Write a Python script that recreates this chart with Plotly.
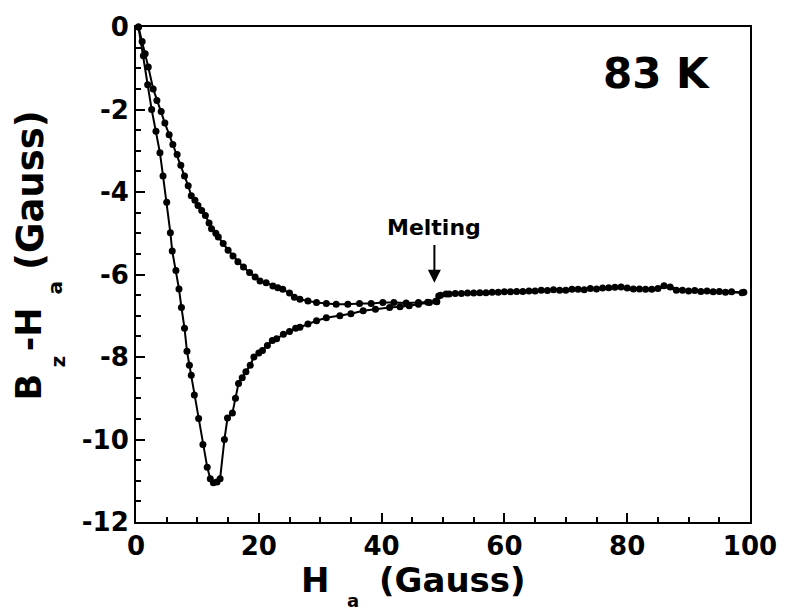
import plotly.graph_objects as go

# ---------------- data ----------------
# increasing-field branch (lower curve with the dip)
H_inc = [0.4, 1.2, 1.9, 2.55, 3.25, 3.9, 4.4, 5.0, 5.6, 5.9, 6.5, 7.0, 7.4, 7.9, 8.3,
         8.7, 9.0, 9.5, 10.2, 10.9, 11.6, 12.1, 12.6, 13.2, 13.7, 14.4, 14.9, 15.7,
         16.2, 16.7, 17.3, 17.9, 18.6, 19.2, 20.0, 20.6, 21.4, 22.2, 22.9, 24.0, 25.0,
         26.0, 26.7, 28.0, 29.4, 31.0, 33.2, 35.0, 37.0, 39.0, 41.3, 43.0, 44.5, 46.0,
         47.8, 48.8, 49.3, 50.5, 52, 54, 56, 58, 60, 62, 64, 66, 68, 70, 72, 74, 76,
         78, 80, 82, 84, 86, 88, 90, 92, 94, 96, 98.7]
B_inc = [0.0, -0.7, -1.4, -2.0, -2.53, -3.05, -3.61, -4.25, -4.99, -5.43, -5.9, -6.35,
         -6.8, -7.3, -7.86, -8.2, -8.44, -8.92, -9.49, -10.12, -10.67, -10.95, -11.05,
         -11.03, -10.95, -10.0, -9.48, -9.36, -9.0, -8.64, -8.5, -8.36, -8.2, -8.0,
         -7.9, -7.84, -7.72, -7.6, -7.56, -7.45, -7.38, -7.3, -7.28, -7.2, -7.12,
         -7.05, -7.0, -6.95, -6.88, -6.84, -6.8, -6.78, -6.76, -6.72, -6.68, -6.65,
         -6.52, -6.47, -6.46, -6.45, -6.44, -6.43, -6.42, -6.41, -6.40, -6.38, -6.37,
         -6.38, -6.36, -6.34, -6.33, -6.31, -6.33, -6.35, -6.36, -6.27, -6.38, -6.40,
         -6.41, -6.42, -6.43, -6.44]

# decreasing-field branch (upper curve)
H_dec = [0.4, 1.0, 1.5, 2.0, 2.8, 3.4, 4.1, 4.7, 5.4, 6.0, 6.7, 7.3, 7.9, 8.5, 9.0,
         9.6, 10.1, 10.7, 11.3, 11.9, 12.3, 13.0, 13.4, 14.2, 15.0, 15.8, 16.6, 17.5,
         18.5, 19.4, 20.2, 21.2, 22.3, 23.1, 23.9, 25.0, 25.8, 26.7, 28.0, 29.4, 31.0,
         32.6, 34.5, 36.4, 38.3, 40.2, 42, 44, 46, 47.5, 49.0, 49.6, 51, 53, 55, 57,
         59, 61, 63, 65, 67, 69, 71, 73, 75, 77, 79, 81, 83, 85, 87, 89, 91, 93, 95,
         97, 99]
B_dec = [0.0, -0.35, -0.65, -0.97, -1.5, -1.78, -2.05, -2.33, -2.61, -2.85, -3.09,
         -3.35, -3.61, -3.85, -4.09, -4.2, -4.33, -4.45, -4.57, -4.75, -4.89, -5.0,
         -5.09, -5.25, -5.41, -5.55, -5.69, -5.82, -5.95, -6.06, -6.16, -6.2, -6.28,
         -6.32, -6.36, -6.45, -6.55, -6.6, -6.64, -6.68, -6.7, -6.72, -6.72, -6.7,
         -6.7, -6.68, -6.68, -6.69, -6.68, -6.67, -6.66, -6.5, -6.47, -6.46, -6.45,
         -6.44, -6.43, -6.42, -6.41, -6.40, -6.39, -6.38, -6.36, -6.37, -6.35, -6.32,
         -6.30, -6.35, -6.36, -6.34, -6.30, -6.38, -6.39, -6.40, -6.41, -6.42, -6.43]

x_ticks = [0, 20, 40, 60, 80, 100]
x_ticktext = ["0", "20", "40", "60", "80", "100"]
y_ticks = [0, -2, -4, -6, -8, -10, -12]
y_ticktext = ["0", "-2", "-4", "-6", "-8", "-10", "-12"]

label_temp = "83 K"
label_melt = "Melting"
melt_H = 48.6

# ---------------- layout helpers ----------------
W, Hh = 789, 615
PL, PR, PT, PB = 136, 755, 21, 522   # plot area in pixels


def px(xp):
    return (xp - PL) / (PR - PL)


def py(yp):
    return (PB - yp) / (PB - PT)


FONT = "DejaVu Sans"
BLACK = "#000000"

fig = go.Figure()
for hx, by in ((H_inc, B_inc), (H_dec, B_dec)):
    fig.add_trace(go.Scatter(
        x=hx, y=by, mode="lines+markers",
        line=dict(color=BLACK, width=2),
        marker=dict(color=BLACK, size=7),
        cliponaxis=False, showlegend=False,
    ))

axis_common = dict(
    showline=True, linecolor=BLACK, linewidth=2, mirror=True,
    ticks="inside", tickcolor=BLACK, tickwidth=2, ticklen=9,
    showgrid=False, zeroline=False,
    tickfont=dict(family=FONT, size=26, color=BLACK, weight="bold"),
)

fig.update_xaxes(range=[0, 100], tickvals=x_ticks, ticktext=x_ticktext,
                 minor=dict(dtick=5, ticks="inside", ticklen=5, tickwidth=1.5,
                            tickcolor=BLACK, showgrid=False),
                 **axis_common)
fig.update_yaxes(range=[-12, 0], tickvals=y_ticks, ticktext=y_ticktext,
                 minor=dict(dtick=0.5, ticks="inside", ticklen=5, tickwidth=1.5,
                            tickcolor=BLACK, showgrid=False),
                 **axis_common)

ann = []


def txt(t, xp, yp, size, angle=0):
    ann.append(dict(text=t, x=px(xp), y=py(yp), xref="paper", yref="paper",
                    showarrow=False, textangle=angle, xanchor="center",
                    yanchor="middle",
                    font=dict(family=FONT, size=size, color=BLACK, weight="bold")))


txt(label_temp, 661, 68, 42)
# x-axis title pieces
txt("H", 316, 581, 34)
txt("a", 355, 601, 18)
txt("(Gauss)", 455, 581, 34)
# y-axis title pieces
txt("B", 28, 385, 35, -90)
txt("z", 57, 360, 20, -90)
txt("-H", 28, 327, 35, -90)
txt("a", 54, 285, 20, -90)
txt("(Gauss)", 29, 186, 37, -90)

# Melting label and arrow
ann.append(dict(text=label_melt, x=melt_H, y=-4.86, xref="x", yref="y",
                showarrow=False, xanchor="center", yanchor="middle",
                font=dict(family=FONT, size=22, color=BLACK, weight="bold")))
ann.append(dict(text="", x=melt_H, y=-6.2, ax=melt_H, ay=-5.25,
                xref="x", yref="y", axref="x", ayref="y",
                showarrow=True, arrowhead=2, arrowsize=1.3, arrowwidth=2,
                arrowcolor=BLACK))

fig.update_layout(
    width=W, height=Hh,
    margin=dict(l=PL, r=W - PR, t=PT, b=Hh - PB, pad=0),
    paper_bgcolor="white", plot_bgcolor="white",
    annotations=ann,
)

fig.write_html("out.html")
